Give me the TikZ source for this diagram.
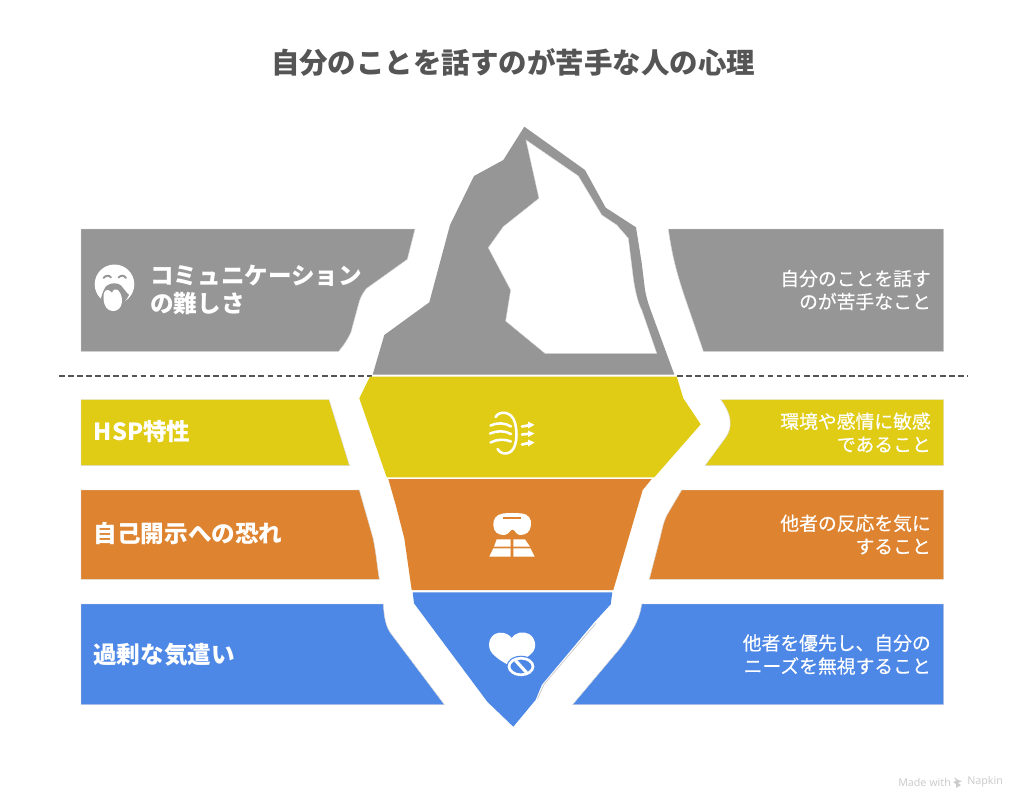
\documentclass[tikz,border=0pt]{standalone}
\usepackage{fontspec}
\setmainfont{Noto Sans CJK JP}
\newfontfamily\medfont[FakeBold=0.3]{Noto Sans CJK JP}
\newfontfamily\latinfont{Noto Sans}
\definecolor{cgray}{HTML}{969696}
\definecolor{cyellow}{HTML}{E0CB15}
\definecolor{corange}{HTML}{DE8431}
\definecolor{cblue}{HTML}{4E88E7}
\definecolor{ctitle}{HTML}{555555}
\tikzset{
  bandshape/.style={line width=0.35pt,draw=black!14},
  labelleft/.style={text=white,inner sep=0pt,anchor=west,align=left,font=\fontsize{17.7}{21}\selectfont\bfseries},
  labelright/.style={text=white,inner sep=0pt,anchor=east,align=right,font=\medfont\fontsize{14.1}{17.3}\selectfont},
  iconline/.style={draw=white,line width=1.9pt,line cap=round,fill=none},
}
\begin{document}
\begin{tikzpicture}[x=0.75pt,y=-0.75pt]
\useasboundingbox (0,0) rectangle (1024,808);
\fill[white] (0,0) rectangle (1024,808);
% title
\node[inner sep=0pt,text=ctitle,font=\fontsize{21.35}{25}\selectfont\bfseries] (title) at (513,62) {自分のことを話すのが苦手な人の心理};
% dashed waterline
\coordinate (dl1) at (59,376); \coordinate (dl2) at (372,376);
\coordinate (dr1) at (677,376); \coordinate (dr2) at (968,376);
\draw[ctitle,line width=0.85pt,dash pattern=on 4.2pt off 2.6pt] (dl1) -- (dl2);
\draw[ctitle,line width=0.85pt,dash pattern=on 4.2pt off 2.6pt] (dr1) -- (dr2);
% left and right bands
\fill[cgray,bandshape] (81,229) -- (415,229) -- (407.3,259.3) -- (366.7,288.3) .. controls (361,295) and (360,299) .. (358.3,305) -- (351,332) .. controls (348,339) and (344,345) .. (338.3,351.7) -- (81,351.7) -- cycle;
\fill[cgray,bandshape] (668.3,229) -- (943.5,229) -- (943.5,351.7) -- (703.5,351.7) -- (683,292) .. controls (676,270) and (672,255) .. (668.3,229) -- cycle;
\fill[cyellow,bandshape] (81,399.5) -- (329,399.5) -- (349.5,465.7) -- (81,465.7) -- cycle;
\fill[cyellow,bandshape] (720.7,399.5) -- (943.5,399.5) -- (943.5,465.7) -- (705,465.7) -- (726,437) .. controls (732,428) and (733,416) .. (720.7,399.5) -- cycle;
\fill[corange,bandshape] (81,490) -- (359.3,490) -- (373,538) .. controls (376,552) and (377,565) .. (379.3,579.3) -- (81,579.3) -- cycle;
\fill[corange,bandshape] (681.7,490) -- (667,515) .. controls (663,523) and (662,530) .. (660,538) -- (649.3,579.3) -- (943.5,579.3) -- (943.5,490) -- cycle;
\fill[cblue,bandshape] (81,604) -- (383.3,604) .. controls (384,615) and (385,624) .. (390,632.3) -- (444.3,704.5) -- (81,704.5) -- cycle;
\fill[cblue,bandshape] (641.7,604) .. controls (640,616) and (636,627) .. (620,648.3) -- (572.7,704.5) -- (943.5,704.5) -- (943.5,604) -- cycle;
% iceberg top
\fill[cgray] (524.3,126.7) -- (585,170) -- (605.7,207.7) -- (636,227.3) -- (641.7,263) -- (645,290) .. controls (647,300) and (649,306) .. (651.7,313) -- (674.3,374.5) -- (372.7,374.5) -- (384.3,335) -- (429.3,302.3) -- (450,225) -- (474,176) -- (503.3,160) -- cycle;
\fill[white,draw=black!14,line width=0.3pt] (526,140) -- (578.3,176) -- (601.7,215) -- (616.7,225) -- (628.3,238.3) -- (633.5,280) .. controls (636,296) and (639,305) .. (641.7,310) -- (656.7,353.3) -- (545,353.3) -- (505.7,321) -- (510.7,290) -- (488.3,247.7) -- (503.3,226.7) -- (539,198.3) -- cycle;
% iceberg yellow
\fill[cyellow] (370,376.5) -- (359.3,398.3) -- (386.7,477.3) -- (654.3,477.3) -- (700.7,424.3) -- (683.3,398.3) -- (676.7,376.5) -- cycle;
% iceberg orange
\fill[corange] (388.3,479) -- (396,506) -- (404.3,538.3) -- (411.7,590) -- (613.3,590) -- (642.7,490) -- (651.7,479) -- cycle;
% iceberg blue
\fill[cblue] (412.7,592.3) -- (414,603.3) -- (487.3,701.7) -- (513.3,726.7) -- (535.5,700) -- (542,684.5) -- (594,622.5) -- (610.7,604.3) -- (612.3,592.3) -- cycle;
\draw[black!22,line width=0.5pt] (537.5,699) -- (544,684.3) -- (596,623.3);
% icon: face
\fill[white] (114.5,284.3) circle (19.8);
\draw[cgray,line width=1.4pt,line cap=round] (103.5,278) .. controls (106,275) and (109,275) .. (111,277.5);
\draw[cgray,line width=1.4pt,line cap=round] (118.5,277.5) .. controls (121,275) and (124,275) .. (126,278);
\fill[cgray] (101,298) .. controls (103,292) and (104,288) .. (107,285.5) .. controls (111,282.5) and (118,282.5) .. (121,285.5) .. controls (124,289) and (126,292) .. (129,295) .. controls (127,299) and (124,302) .. (123,305) -- (102,305) -- cycle;
\fill[white] (103.5,299) .. controls (103,293) and (105,289.5) .. (108,290) .. controls (110,290.5) and (111,292) .. (112,293) .. controls (113,290) and (115,288.5) .. (117,289.5) .. controls (120,291) and (122.5,297) .. (122,302) .. controls (121.5,308) and (117,311.5) .. (112.5,311) .. controls (107,310.5) and (104,306) .. (103.5,299) -- cycle;
% icon: ear and sound
\draw[iconline] (495.5,417) .. controls (499,410.5) and (512,410.5) .. (515,423) .. controls (517,431) and (517,439) .. (515,445) .. controls (512,455) and (502,456) .. (497.5,449);
\draw[iconline] (490.5,425.5) .. controls (497,422.5) and (505,422.5) .. (511,426.5);
\draw[iconline] (490,433.5) .. controls (497,430.5) and (505,430.5) .. (511,434);
\draw[iconline] (490.5,442.5) .. controls (497,439) and (505,439) .. (511,441.5);
\draw[iconline,line width=2pt] (522,426.5) -- (531,425);
\draw[iconline,line width=2pt] (522,434.5) -- (531,433.5);
\draw[iconline,line width=2pt] (522,444.5) -- (531,442.5);
\fill[white] (528,421.5) -- (534.5,424.8) -- (528,428.5) -- cycle;
\fill[white] (528,430.5) -- (534.5,433.5) -- (528,437) -- cycle;
\fill[white] (528,439.5) -- (534.5,442.5) -- (528,446.5) -- cycle;
% icon: goggles and blocks
\fill[white] (503,513.5) .. controls (508,512.8) and (516,512.8) .. (522,513.5) .. controls (529,514.5) and (531.5,519) .. (531,525) .. controls (530.5,532) and (526,535) .. (520,535) .. controls (516,535) and (515,529.5) .. (512.5,529.5) .. controls (510,529.5) and (509,535) .. (504,535) .. controls (498,535) and (493.5,532) .. (493.3,525) .. controls (493.2,519) and (496,514.5) .. (503,513.5) -- cycle;
\fill[corange] (502.7,516.7) rectangle (521,519.3);
\fill[white] (496.7,539.3) -- (510.7,539.3) -- (510.7,546.7) -- (494,546.7) -- cycle;
\fill[white] (513.3,539.3) -- (525,539.3) -- (530,546.7) -- (513.3,546.7) -- cycle;
\fill[white] (493.3,548.3) -- (510.7,548.3) -- (510.7,556.7) -- (489.3,556.7) -- cycle;
\fill[white] (513.3,548.3) -- (530.5,548.3) -- (534.7,556.7) -- (513.3,556.7) -- cycle;
% icon: heart and pill
\fill[white] (511.7,638) .. controls (507,632) and (500,631.5) .. (495,634) .. controls (488,638) and (487.5,648) .. (492,653) .. controls (497,659) and (505,663) .. (511.7,667) .. controls (518,663) and (527,658) .. (532,653) .. controls (537,648) and (536,638) .. (529,634) .. controls (523,631) and (516,632) .. (511.7,638) -- cycle;
\fill[cblue] (521,666.5) ellipse (14.5 and 10.8);
\draw[white,line width=2pt] (521,666.5) ellipse (12 and 8.3);
\draw[white,line width=2.4pt] (515.5,660.5) -- (526.5,672.5);
% texts
\node[labelleft] (t1) at (150,290) {コミュニケーション\\の難しさ};
\node[labelleft] (t2) at (93.5,432) {HSP特性};
\node[labelleft] (t3) at (93.5,534) {自己開示への恐れ};
\node[labelleft] (t4) at (93,655) {過剰な気遣い};
\node[labelright] (r1) at (931,290) {自分のことを話す\\のが苦手なこと};
\node[labelright] (r2) at (931,432.5) {環境や感情に敏感\\であること};
\node[labelright] (r3) at (931,534.5) {他者の反応を気に\\すること};
\node[labelright] (r4) at (931,654.5) {他者を優先し、自分の\\ニーズを無視すること};
% watermark
\node[inner sep=0pt,anchor=west,text=black!20,font=\latinfont\fontsize{8}{9}\selectfont\bfseries] (wm1) at (898,782) {Made with};
\node[inner sep=0pt,anchor=west,text=black!20,font=\latinfont\fontsize{8}{9}\selectfont\bfseries] (wm2) at (967,782) {Napkin};
\fill[black!20] (954,777) -- (958,780) -- (962,781) -- (958,783) -- (961,785) -- (956,788) -- (956,784) -- (953,782) -- (956,781) -- cycle;
\end{tikzpicture}
\end{document}
